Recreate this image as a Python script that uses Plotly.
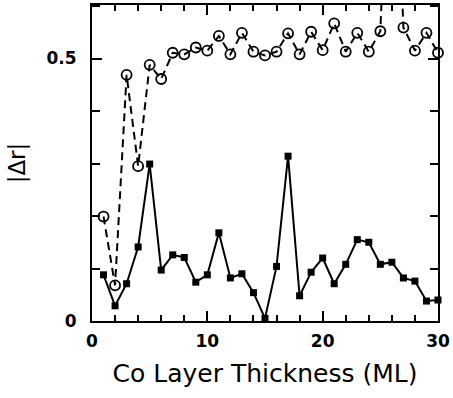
import plotly.graph_objects as go

thickness = list(range(1, 31))
dr_squares = [0.088, 0.029, 0.071, 0.141, 0.299, 0.097, 0.126, 0.121, 0.074, 0.088,
              0.168, 0.082, 0.090, 0.054, 0.005, 0.104, 0.314, 0.048, 0.093, 0.120,
              0.071, 0.108, 0.155, 0.150, 0.108, 0.112, 0.082, 0.076, 0.038, 0.040]
dr_circles = [0.199, 0.068, 0.469, 0.295, 0.488, 0.461, 0.511, 0.508, 0.521, 0.515,
              0.543, 0.508, 0.549, 0.513, 0.506, 0.513, 0.548, 0.508, 0.551, 0.516,
              0.567, 0.513, 0.549, 0.513, 0.552, 1.1, 0.559, 0.515, 0.549, 0.511]
x_ticks = [0, 10, 20, 30]
y_ticks = [0, 0.5]
y_tick_text = ["0", "0.5"]

fig = go.Figure()
fig.add_trace(go.Scatter(
    x=thickness, y=dr_circles, mode="lines+markers",
    line=dict(color="black", width=2, dash="8px,5px"),
    marker=dict(symbol="circle-open", size=10, color="black", line=dict(width=1.8, color="black")),
    cliponaxis=False, showlegend=False))
fig.add_trace(go.Scatter(
    x=thickness, y=dr_squares, mode="lines+markers",
    line=dict(color="black", width=2),
    marker=dict(symbol="square", size=7, color="black"),
    cliponaxis=False, showlegend=False))

tickfont = dict(family="DejaVu Sans", size=17, color="black", weight="bold")
fig.update_layout(
    width=453, height=398,
    margin=dict(l=92, r=13, t=3, b=77),
    paper_bgcolor="white", plot_bgcolor="white",
    xaxis=dict(
        range=[0, 30], tickvals=x_ticks, ticks="inside", ticklen=10, tickwidth=2,
        tickcolor="black", showline=True, linewidth=2, linecolor="black",
        mirror="ticks", showgrid=False, zeroline=False, ticklabelstandoff=4,
        tickfont=tickfont,
        minor=dict(dtick=2, tick0=0, ticks="inside", ticklen=6, tickwidth=1.5, tickcolor="black", showgrid=False),
        title=dict(text="Co Layer Thickness (ML)", font=dict(family="DejaVu Sans", size=25, color="black"), standoff=14),
    ),
    yaxis=dict(
        range=[0, 0.602], tickvals=y_ticks, ticktext=y_tick_text, ticks="inside",
        ticklen=10, tickwidth=2, tickcolor="black", showline=True, linewidth=2,
        linecolor="black", mirror="ticks", showgrid=False, zeroline=False,
        ticklabelstandoff=10,
        tickfont=tickfont,
        minor=dict(dtick=0.1, tick0=0, ticks="inside", ticklen=8, tickwidth=1.5, tickcolor="black", showgrid=False),
        title=dict(text="|Δr|", font=dict(family="DejaVu Sans", size=23, color="black"), standoff=14),
    ),
)
fig.write_html("out.html")
